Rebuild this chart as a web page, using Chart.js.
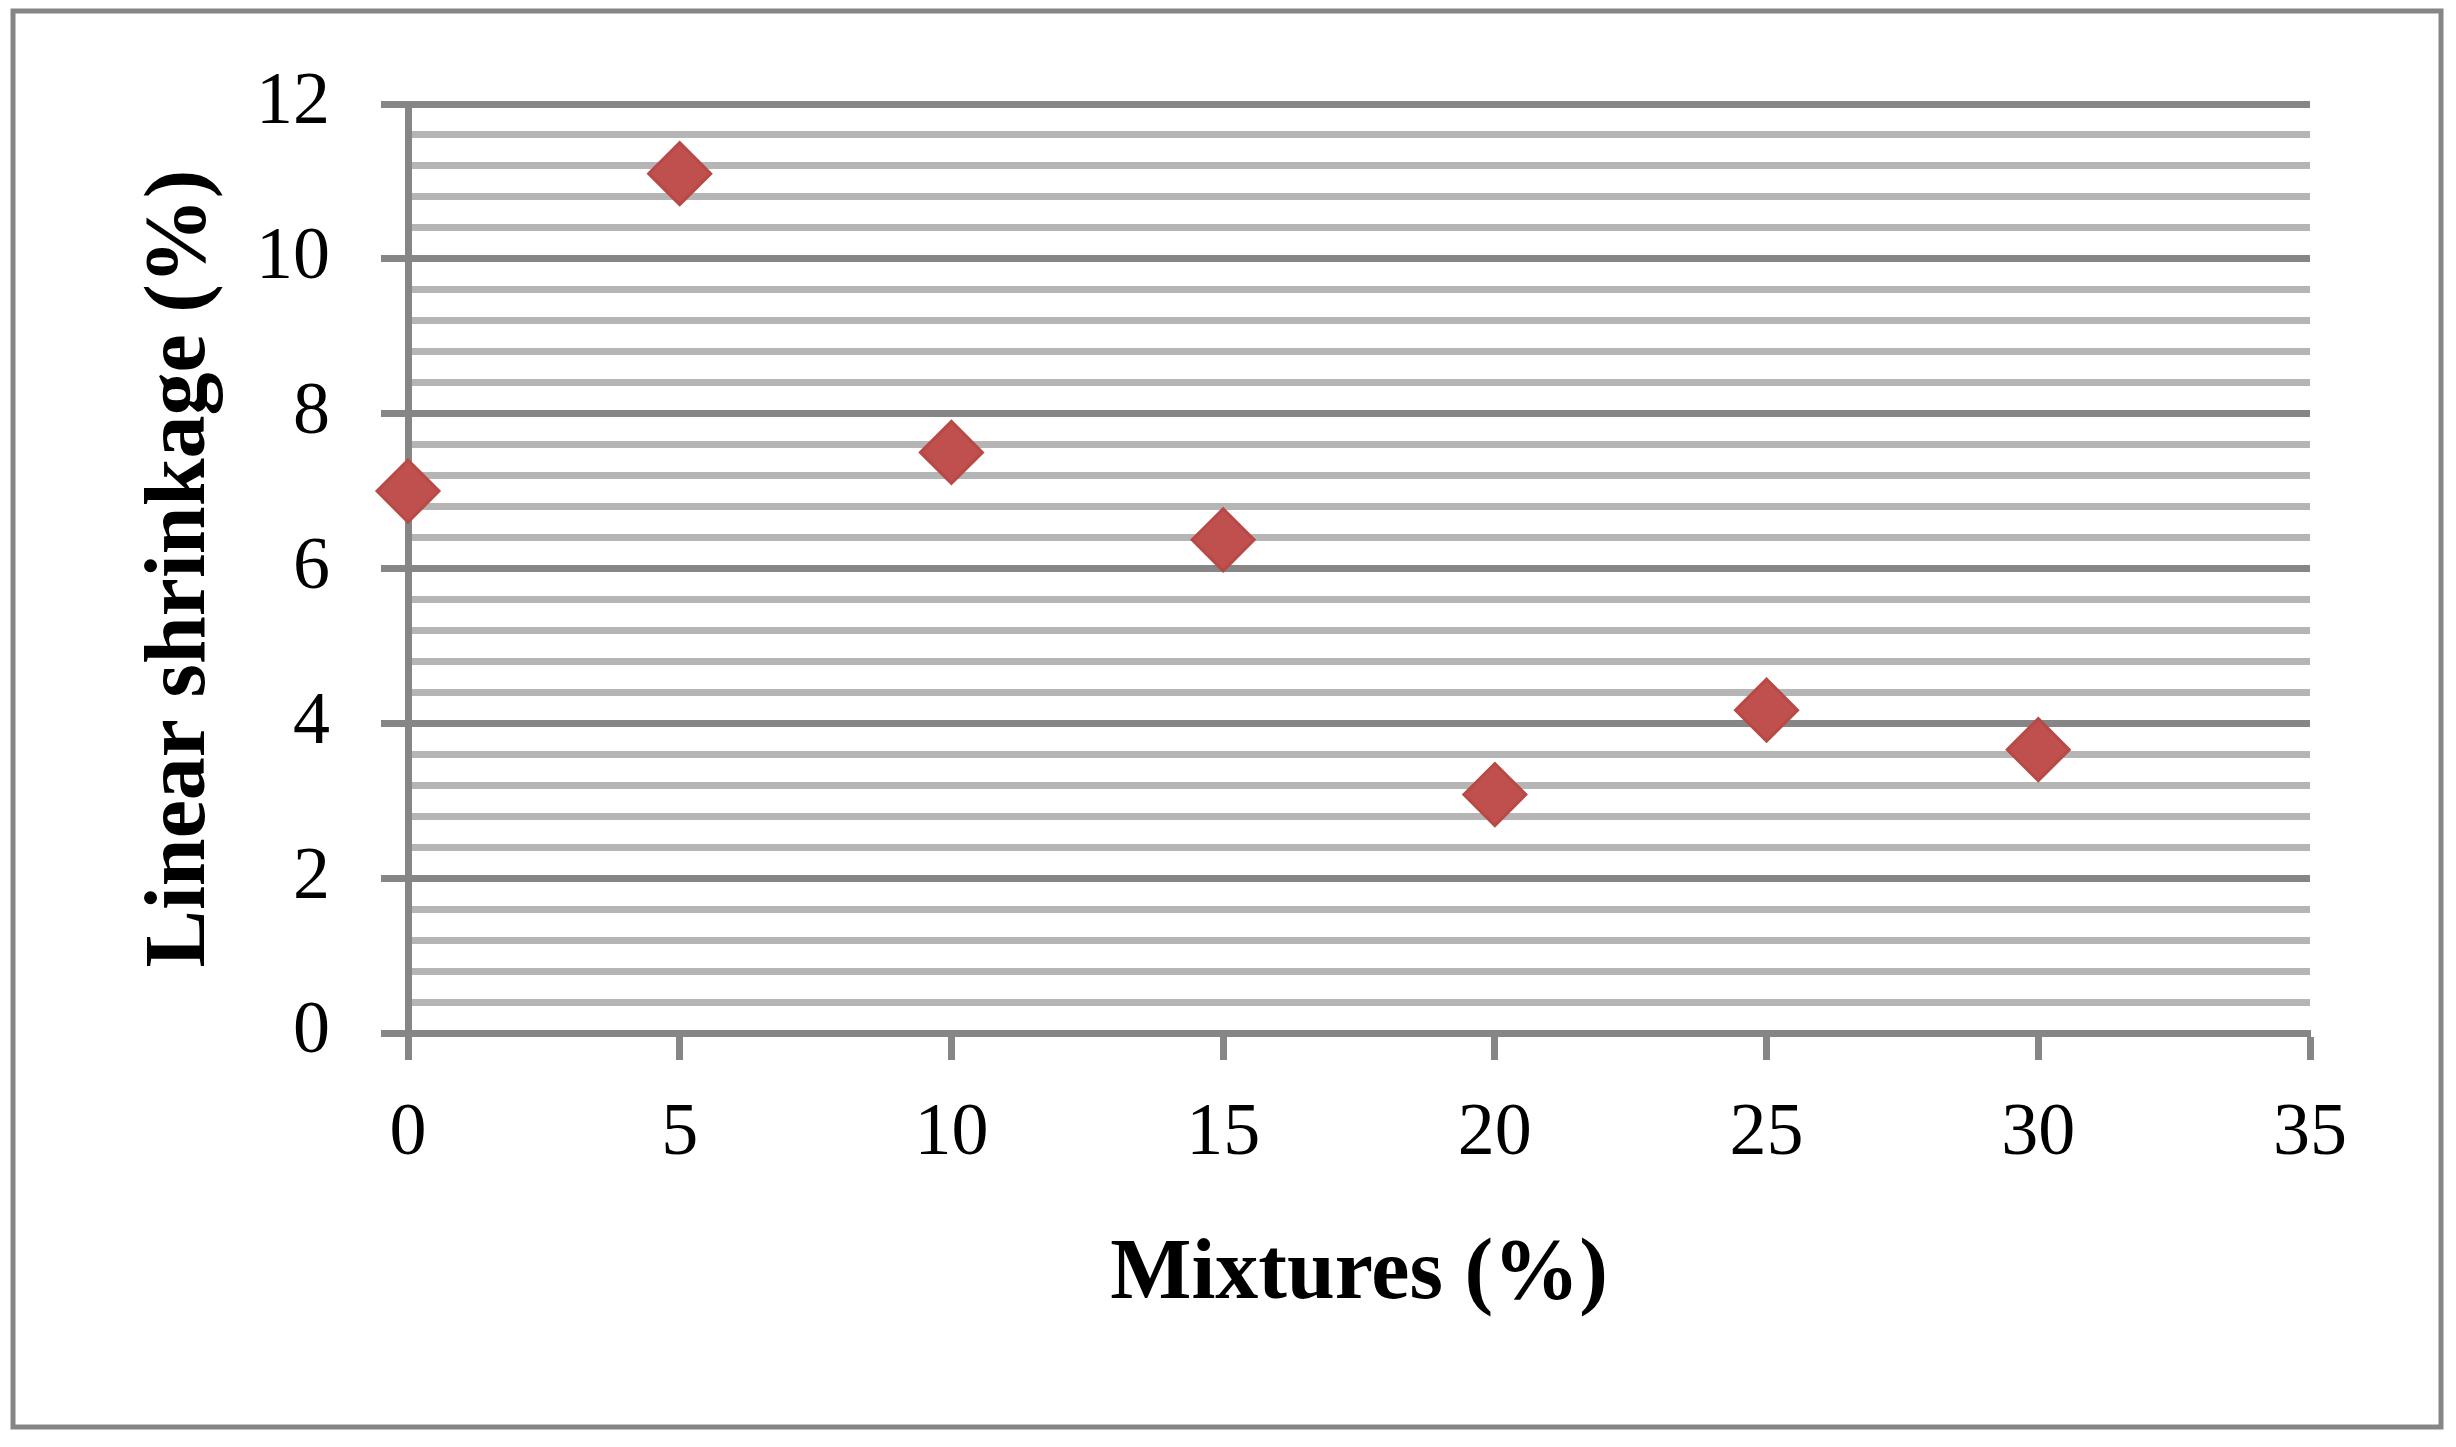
<!DOCTYPE html>
<html>
<head>
<meta charset="utf-8">
<script src="https://cdn.jsdelivr.net/npm/chart.js@4"></script>
<style>
  html, body { margin: 0; padding: 0; background: #fff; }
  #wrap { width: 2456px; height: 1447px; position: relative; }
</style>
</head>
<body>
<div id="wrap"><canvas id="shrinkChart"></canvas></div>
<script>
// data
const mixtures = [0, 5, 10, 15, 20, 25, 30];
const shrinkage = [7.0, 11.1, 7.5, 6.37, 3.08, 4.17, 3.66];
const xTicks = [0, 5, 10, 15, 20, 25, 30, 35];
const yTicks = [0, 2, 4, 6, 8, 10, 12];

const majorGrey = "#868686";
const minorGrey = "#b5b5b5";
const isMajor = v => yTicks.some(t => Math.abs(t - v) < 1e-6);

// outer frame round the whole chart
const framePlugin = {
    id: "frame",
    beforeDraw(chart) {
        const ctx = chart.ctx;
        ctx.save();
        ctx.fillStyle = "#fff";
        ctx.fillRect(0, 0, chart.width, chart.height);
        ctx.strokeStyle = majorGrey;
        ctx.lineWidth = 5;
        ctx.strokeRect(13, 11, 2428, 1416);
        ctx.restore();
    }
};

const ctx = document.getElementById("shrinkChart").getContext("2d");
new Chart(ctx, {
    type: "scatter",
    data: {
        datasets: [{
            label: "Linear shrinkage",
            data: mixtures.map((m, i) => ({ x: m, y: shrinkage[i] })),
            pointStyle: "rectRot",
            pointRadius: 31,
            pointHoverRadius: 31,
            backgroundColor: "#C0504D",
            borderColor: "#B84946",
            borderWidth: 3,
            clip: false
        }]
    },
    options: {
        responsive: true,
        maintainAspectRatio: false,
        animation: false,
        events: [],
        layout: { padding: { top: 104, right: 146, left: 0, bottom: 0 } },
        plugins: {
            legend: { display: false },
            tooltip: { enabled: false }
        },
        scales: {
            x: {
                type: "linear",
                min: 0,
                max: 35,
                afterFit: s => { s.height = 414; },
                afterBuildTicks: s => { s.ticks = xTicks.map(v => ({ value: v })); },
                grid: {
                    drawOnChartArea: false,
                    drawTicks: true,
                    tickLength: 27,
                    tickWidth: 7,
                    tickColor: majorGrey
                },
                border: { display: true, color: majorGrey, width: 7 },
                ticks: {
                    autoSkip: false,
                    maxRotation: 0,
                    padding: 30,
                    color: "#000",
                    font: { family: "Liberation Serif", size: 74 }
                },
                title: {
                    display: true,
                    text: "Mixtures (%)",
                    color: "#000",
                    font: { family: "Liberation Serif", size: 86, weight: "bold" },
                    padding: { top: 0, bottom: 120 }
                }
            },
            y: {
                type: "linear",
                min: 0,
                max: 12,
                afterFit: s => { s.width = 408; },
                ticks: {
                    stepSize: 0.4,
                    autoSkip: false,
                    padding: 51,
                    color: "#000",
                    font: { family: "Liberation Serif", size: 74 },
                    callback: v => isMajor(v) ? String(Math.round(v)) : ""
                },
                grid: {
                    lineWidth: 7,
                    color: c => isMajor(c.tick.value) ? majorGrey : minorGrey,
                    tickLength: 27,
                    tickWidth: 7,
                    tickColor: c => isMajor(c.tick.value) ? majorGrey : "rgba(0,0,0,0)"
                },
                border: { display: true, color: majorGrey, width: 7 },
                title: {
                    display: true,
                    text: "Linear shrinkage (%)",
                    color: "#000",
                    font: { family: "Liberation Serif", size: 86, weight: "bold" },
                    padding: { top: 130, bottom: 0 }
                }
            }
        }
    },
    plugins: [framePlugin]
});
</script>
</body>
</html>
